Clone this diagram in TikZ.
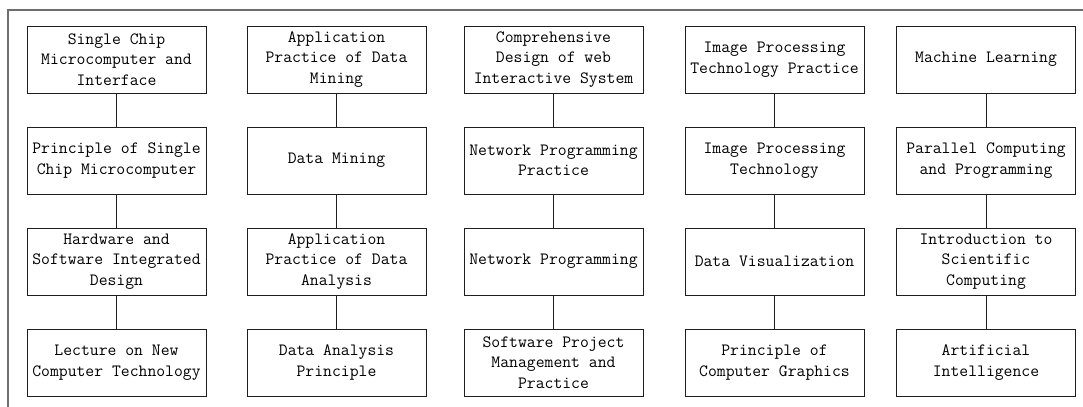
\documentclass[tikz,border=0pt]{standalone}
\usepackage{tikz}
\usetikzlibrary{positioning}
\definecolor{framecolor}{RGB}{110, 110, 110}
\definecolor{boxline}{RGB}{30, 30, 30}

\begin{document}
\begin{tikzpicture}[
        x=0.75pt, y=-0.75pt,
        course/.style={rectangle, draw=boxline, line width=0.75pt, minimum width=134.25pt, minimum height=50.25pt,
            align=center, inner sep=0pt, font=\ttfamily\fontsize{12.9}{15.4}\selectfont},
        link/.style={draw=boxline, line width=0.75pt}
    ]

        % Page area and outer frame
        \clip (0,0) rectangle (1083,407);
        \draw[framecolor, line width=1.1pt] (8,10) rectangle (1100,420);

        % Column 1
        \node[course] (mcu_if) at (116.5,59.5) {Single Chip\\Microcomputer and\\Interface};
        \node[course] (mcu_prin) at (116.5,160.5) {Principle of Single\\Chip Microcomputer};
        \node[course] (hw_sw) at (116.5,261.5) {Hardware and\\Software Integrated\\Design};
        \node[course] (lecture) at (116.5,362.5) {Lecture on New\\Computer Technology};
        \draw[link] (mcu_if) -- (mcu_prin);
        \draw[link] (mcu_prin) -- (hw_sw);
        \draw[link] (hw_sw) -- (lecture);

        % Column 2
        \node[course] (dm_app) at (336.5,59.5) {Application\\Practice of Data\\Mining};
        \node[course] (dm) at (336.5,160.5) {Data Mining};
        \node[course] (da_app) at (336.5,261.5) {Application\\Practice of Data\\Analysis};
        \node[course] (da_prin) at (336.5,362.5) {Data Analysis\\Principle};
        \draw[link] (dm_app) -- (dm);
        \draw[link] (dm) -- (da_app);
        \draw[link] (da_app) -- (da_prin);

        % Column 3
        \node[course] (web) at (553.5,59.5) {Comprehensive\\Design of web\\Interactive System};
        \node[course] (net_prac) at (553.5,160.5) {Network Programming\\Practice};
        \node[course] (net) at (553.5,261.5) {Network Programming};
        \node[course] (swpm) at (553.5,362.5) {Software Project\\Management and\\Practice};
        \draw[link] (web) -- (net_prac);
        \draw[link] (net_prac) -- (net);
        \draw[link] (net) -- (swpm);

        % Column 4
        \node[course] (img_prac) at (774.5,59.5) {Image Processing\\Technology Practice};
        \node[course] (img) at (774.5,160.5) {Image Processing\\Technology};
        \node[course] (vis) at (774.5,261.5) {Data Visualization};
        \node[course] (graphics) at (774.5,362.5) {Principle of\\Computer Graphics};
        \draw[link] (img_prac) -- (img);
        \draw[link] (img) -- (vis);
        \draw[link] (vis) -- (graphics);

        % Column 5
        \node[course] (ml) at (986,59.5) {Machine Learning};
        \node[course] (parallel) at (986,160.5) {Parallel Computing\\and Programming};
        \node[course] (sci) at (986,261.5) {Introduction to\\Scientific\\Computing};
        \node[course] (ai) at (986,362.5) {Artificial\\Intelligence};
        \draw[link] (ml) -- (parallel);
        \draw[link] (parallel) -- (sci);
        \draw[link] (sci) -- (ai);

    \end{tikzpicture}
\end{document}
